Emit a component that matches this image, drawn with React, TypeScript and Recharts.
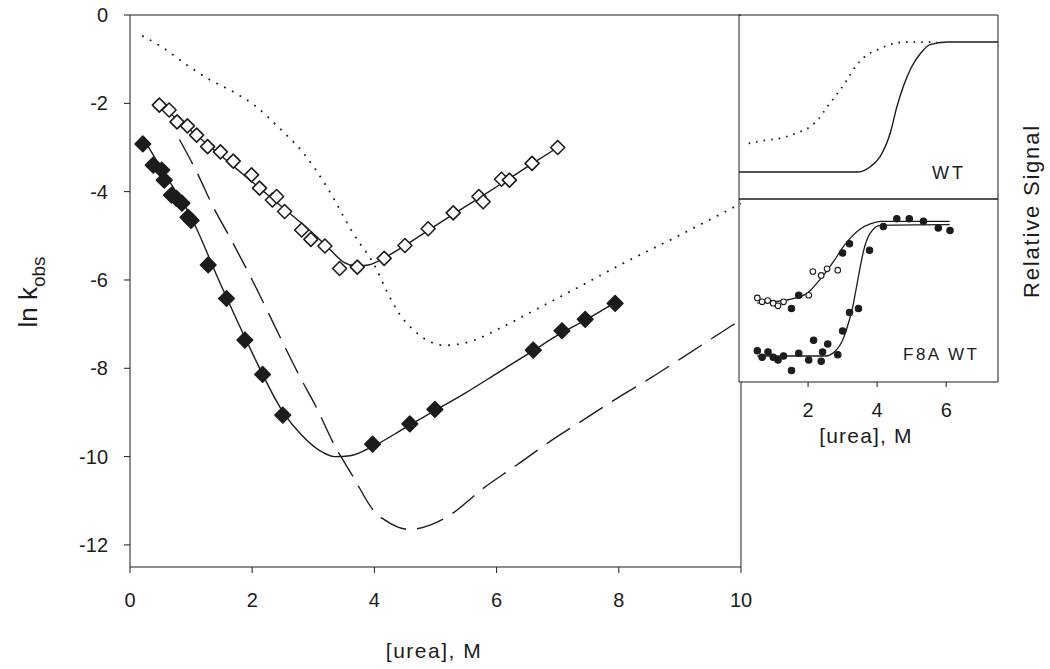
import React from "react";
import { ComposedChart, Line, Scatter, XAxis, YAxis, ReferenceLine } from "recharts";

const FONT = '"Liberation Sans", Arial, Helvetica, sans-serif';
const INK = "#1c1c1c";

// main panel: ln k_obs vs [urea]
const xTicks = [0, 2, 4, 6, 8, 10];
const yTicks = [0, -2, -4, -6, -8, -10, -12];

const openDiamonds = [
  { x: 0.48, y: -2.04 }, { x: 0.64, y: -2.15 }, { x: 0.77, y: -2.42 }, { x: 0.94, y: -2.51 },
  { x: 1.09, y: -2.72 }, { x: 1.27, y: -2.98 }, { x: 1.48, y: -3.1 }, { x: 1.69, y: -3.31 },
  { x: 1.99, y: -3.62 }, { x: 2.12, y: -3.92 }, { x: 2.33, y: -4.19 }, { x: 2.4, y: -4.11 },
  { x: 2.53, y: -4.45 }, { x: 2.81, y: -4.87 }, { x: 2.96, y: -5.08 }, { x: 3.19, y: -5.23 },
  { x: 3.43, y: -5.74 }, { x: 3.72, y: -5.71 }, { x: 4.16, y: -5.51 }, { x: 4.5, y: -5.22 },
  { x: 4.88, y: -4.84 }, { x: 5.29, y: -4.48 }, { x: 5.71, y: -4.11 }, { x: 5.78, y: -4.23 },
  { x: 6.08, y: -3.72 }, { x: 6.21, y: -3.74 }, { x: 6.58, y: -3.36 }, { x: 7.0, y: -3.0 },
];

const openFit = [
  { x: 0.45, y: -2.0 }, { x: 1.0, y: -2.62 }, { x: 1.5, y: -3.2 }, { x: 2.0, y: -3.78 },
  { x: 2.5, y: -4.36 }, { x: 3.0, y: -4.95 }, { x: 3.3, y: -5.35 }, { x: 3.5, y: -5.6 },
  { x: 3.7, y: -5.68 }, { x: 3.9, y: -5.66 }, { x: 4.2, y: -5.47 }, { x: 4.6, y: -5.13 },
  { x: 5.0, y: -4.77 }, { x: 5.5, y: -4.33 }, { x: 6.0, y: -3.89 }, { x: 6.5, y: -3.44 },
  { x: 7.0, y: -3.0 },
];

const filledDiamonds = [
  { x: 0.21, y: -2.92 }, { x: 0.38, y: -3.4 }, { x: 0.52, y: -3.51 }, { x: 0.56, y: -3.74 },
  { x: 0.68, y: -4.08 }, { x: 0.76, y: -4.15 }, { x: 0.85, y: -4.26 }, { x: 0.95, y: -4.58 },
  { x: 1.0, y: -4.65 }, { x: 1.28, y: -5.66 }, { x: 1.58, y: -6.42 }, { x: 1.88, y: -7.36 },
  { x: 2.17, y: -8.14 }, { x: 2.5, y: -9.06 }, { x: 3.97, y: -9.72 }, { x: 4.58, y: -9.26 },
  { x: 4.99, y: -8.93 }, { x: 6.6, y: -7.59 }, { x: 7.07, y: -7.15 }, { x: 7.45, y: -6.89 },
  { x: 7.94, y: -6.53 },
];

const filledFit = [
  { x: 0.2, y: -2.75 }, { x: 0.5, y: -3.45 }, { x: 1.0, y: -4.58 }, { x: 1.5, y: -6.15 },
  { x: 2.0, y: -7.65 }, { x: 2.5, y: -8.98 }, { x: 2.8, y: -9.5 }, { x: 3.1, y: -9.86 },
  { x: 3.35, y: -10.0 }, { x: 3.6, y: -9.98 }, { x: 4.0, y: -9.75 }, { x: 4.5, y: -9.35 },
  { x: 5.0, y: -8.95 }, { x: 5.5, y: -8.55 }, { x: 6.0, y: -8.12 }, { x: 6.6, y: -7.6 },
  { x: 7.0, y: -7.25 }, { x: 7.5, y: -6.87 }, { x: 7.95, y: -6.5 },
];

const dottedCurve = [
  { x: 0.2, y: -0.47 }, { x: 0.55, y: -0.75 }, { x: 0.93, y: -1.13 }, { x: 1.31, y: -1.47 },
  { x: 1.69, y: -1.74 }, { x: 2.07, y: -2.08 }, { x: 2.45, y: -2.57 }, { x: 2.84, y: -3.13 },
  { x: 3.22, y: -3.89 }, { x: 3.65, y: -4.94 }, { x: 4.04, y: -5.77 }, { x: 4.2, y: -6.25 },
  { x: 4.4, y: -6.75 }, { x: 4.64, y: -7.13 }, { x: 4.91, y: -7.4 }, { x: 5.15, y: -7.48 },
  { x: 5.56, y: -7.4 }, { x: 6.06, y: -7.09 }, { x: 6.71, y: -6.62 }, { x: 7.36, y: -6.15 },
  { x: 8.02, y: -5.66 }, { x: 8.89, y: -5.06 }, { x: 9.79, y: -4.42 }, { x: 10.0, y: -4.27 },
];

const dashedCurve = [
  { x: 0.81, y: -2.82 }, { x: 1.09, y: -3.55 }, { x: 1.36, y: -4.34 }, { x: 1.66, y: -5.1 },
  { x: 2.0, y: -6.0 }, { x: 2.48, y: -7.36 }, { x: 2.78, y: -8.19 }, { x: 3.06, y: -8.91 },
  { x: 3.33, y: -9.7 }, { x: 3.65, y: -10.45 }, { x: 3.98, y: -11.21 }, { x: 4.26, y: -11.51 },
  { x: 4.58, y: -11.65 }, { x: 4.91, y: -11.55 }, { x: 5.24, y: -11.32 }, { x: 5.78, y: -10.72 },
  { x: 6.33, y: -10.19 }, { x: 6.87, y: -9.66 }, { x: 7.42, y: -9.17 }, { x: 7.97, y: -8.68 },
  { x: 8.51, y: -8.23 }, { x: 9.06, y: -7.74 }, { x: 9.82, y: -7.06 }, { x: 10.0, y: -6.9 },
];

// right frame of the main panel only shows below the inset
const rightFrame = [{ x: 10, y: -12.5 }, { x: 10, y: -8.31 }];

// inset: relative signal vs [urea]
const insetXTicks = [2, 4, 6];
const signalTicks = [0, 1];

const wtDotted = [
  { x: 0.28, y: 0.22 }, { x: 0.67, y: 0.24 }, { x: 1.2, y: 0.26 }, { x: 1.68, y: 0.3 },
  { x: 2.07, y: 0.35 }, { x: 2.31, y: 0.41 }, { x: 2.55, y: 0.5 }, { x: 2.84, y: 0.6 },
  { x: 3.13, y: 0.71 }, { x: 3.37, y: 0.81 }, { x: 3.61, y: 0.88 }, { x: 4.0, y: 0.94 },
  { x: 4.38, y: 0.98 }, { x: 4.86, y: 1.0 }, { x: 5.34, y: 1.0 }, { x: 5.73, y: 1.0 },
];

const wtSolid = [
  { x: 0, y: 0 }, { x: 3.46, y: 0 }, { x: 3.8, y: 0.04 }, { x: 4.09, y: 0.12 },
  { x: 4.38, y: 0.3 }, { x: 4.57, y: 0.5 }, { x: 4.76, y: 0.66 }, { x: 5.0, y: 0.81 },
  { x: 5.25, y: 0.91 }, { x: 5.53, y: 0.98 }, { x: 6.02, y: 1.0 }, { x: 7.5, y: 1.0 },
];

const f8aOpen = [
  { x: 0.53, y: 0.44 }, { x: 0.67, y: 0.41 }, { x: 0.83, y: 0.42 }, { x: 0.99, y: 0.4 },
  { x: 1.13, y: 0.38 }, { x: 1.29, y: 0.41 }, { x: 2.02, y: 0.46 }, { x: 2.14, y: 0.64 },
  { x: 2.38, y: 0.61 }, { x: 2.55, y: 0.66 }, { x: 2.86, y: 0.65 },
];

const f8aFilled = [
  { x: 1.52, y: 0.36 }, { x: 1.73, y: 0.46 }, { x: 3.0, y: 0.78 }, { x: 3.2, y: 0.85 },
];

const wtFilled = [
  { x: 0.53, y: 0.04 }, { x: 0.67, y: -0.01 }, { x: 0.84, y: 0.03 }, { x: 0.99, y: -0.01 },
  { x: 1.13, y: -0.03 }, { x: 1.29, y: 0.0 }, { x: 1.52, y: -0.11 }, { x: 1.73, y: 0.02 },
  { x: 2.02, y: -0.03 }, { x: 2.16, y: 0.12 }, { x: 2.38, y: -0.04 }, { x: 2.42, y: 0.03 },
  { x: 2.57, y: 0.09 }, { x: 2.86, y: 0.01 }, { x: 3.0, y: 0.19 }, { x: 3.2, y: 0.33 },
  { x: 3.46, y: 0.36 }, { x: 3.78, y: 0.8 }, { x: 4.18, y: 0.98 }, { x: 4.57, y: 1.04 },
  { x: 4.93, y: 1.04 }, { x: 5.34, y: 1.02 }, { x: 5.77, y: 0.97 }, { x: 6.11, y: 0.95 },
];

const f8aFit = [
  { x: 0.53, y: 0.4 }, { x: 1.0, y: 0.41 }, { x: 1.5, y: 0.43 }, { x: 2.0, y: 0.48 },
  { x: 2.25, y: 0.55 }, { x: 2.5, y: 0.63 }, { x: 2.75, y: 0.72 }, { x: 3.0, y: 0.82 },
  { x: 3.25, y: 0.9 }, { x: 3.5, y: 0.96 }, { x: 3.8, y: 1.0 }, { x: 4.1, y: 1.02 },
  { x: 6.1, y: 1.02 },
];

const wtFit = [
  { x: 0.53, y: 0.0 }, { x: 2.5, y: 0.0 }, { x: 2.8, y: 0.04 }, { x: 3.0, y: 0.12 },
  { x: 3.17, y: 0.25 }, { x: 3.3, y: 0.38 }, { x: 3.4, y: 0.52 }, { x: 3.5, y: 0.66 },
  { x: 3.61, y: 0.8 }, { x: 3.8, y: 0.93 }, { x: 4.09, y: 0.99 }, { x: 6.1, y: 0.995 },
];

function Diamond(props: any) {
  const { cx, cy, filled, r } = props;
  if (cx == null || cy == null) return null;
  const d = `M${cx},${cy - r}L${cx + r},${cy}L${cx},${cy + r}L${cx - r},${cy}Z`;
  return <path d={d} fill={filled ? INK : "#fff"} stroke={INK} strokeWidth={1.6} strokeLinejoin="round" />;
}

function Dot(props: any) {
  const { cx, cy, filled } = props;
  if (cx == null || cy == null) return null;
  return <circle cx={cx} cy={cy} r={filled ? 3.2 : 2.8} fill={filled ? INK : "#fff"} stroke={INK} strokeWidth={1.1} />;
}

const tickStyle = { fill: INK, fontSize: 20, fontFamily: FONT };

function MainChart() {
  return (
    <ComposedChart width={1050} height={669} margin={{ top: 15, right: 309, bottom: 0, left: 0 }}>
      <XAxis
        type="number"
        dataKey="x"
        domain={[0, 10]}
        ticks={xTicks}
        allowDataOverflow
        height={102}
        tickSize={6}
        tickMargin={20}
        stroke={INK}
        tick={tickStyle}
      />
      <YAxis
        type="number"
        dataKey="y"
        domain={[-12.5, 0]}
        ticks={yTicks}
        allowDataOverflow
        width={130}
        tickSize={6}
        tickMargin={16}
        stroke={INK}
        tick={tickStyle}
      />
      <ReferenceLine y={0} stroke={INK} />
      <ReferenceLine segment={rightFrame} stroke={INK} />
      <Line data={dottedCurve} dataKey="y" type="monotone" dot={false} stroke={INK} strokeWidth={1.8} strokeDasharray="1.8 7" isAnimationActive={false} />
      <Line data={dashedCurve} dataKey="y" type="monotone" dot={false} stroke={INK} strokeWidth={1.4} strokeDasharray="28 11" isAnimationActive={false} />
      <Line data={openFit} dataKey="y" type="monotone" dot={false} stroke={INK} strokeWidth={1.4} isAnimationActive={false} />
      <Line data={filledFit} dataKey="y" type="monotone" dot={false} stroke={INK} strokeWidth={1.4} isAnimationActive={false} />
      <Scatter data={openDiamonds} shape={<Diamond r={7} />} isAnimationActive={false} />
      <Scatter data={filledDiamonds} shape={<Diamond r={7.8} filled />} isAnimationActive={false} />
    </ComposedChart>
  );
}

function InsetTop() {
  return (
    <ComposedChart width={1050} height={669} margin={{ top: 5, right: 42, bottom: 460, left: 729 }}>
      <XAxis xAxisId="b" type="number" dataKey="x" domain={[0, 7.5]} height={10} tick={false} tickLine={false} stroke={INK} />
      <XAxis xAxisId="t" orientation="top" type="number" dataKey="x" domain={[0, 7.5]} height={10} tick={false} tickLine={false} stroke={INK} />
      <YAxis yAxisId="l" type="number" dataKey="y" domain={[-0.208, 1.208]} width={10} tick={false} tickLine={false} stroke={INK} />
      <YAxis yAxisId="r" orientation="right" type="number" dataKey="y" domain={[-0.208, 1.208]} ticks={signalTicks} width={10} tickSize={9} tick={false} stroke={INK} />
      <Line xAxisId="b" yAxisId="r" data={wtDotted} dataKey="y" type="monotone" dot={false} stroke={INK} strokeWidth={1.8} strokeDasharray="1.6 6" isAnimationActive={false} />
      <Line xAxisId="b" yAxisId="r" data={wtSolid} dataKey="y" type="monotone" dot={false} stroke={INK} strokeWidth={1.4} isAnimationActive={false} />
    </ComposedChart>
  );
}

function InsetBottom() {
  return (
    <ComposedChart width={1050} height={669} margin={{ top: 189, right: 42, bottom: 217, left: 729 }}>
      <XAxis xAxisId="b" type="number" dataKey="x" domain={[0, 7.5]} ticks={insetXTicks} height={70} tickSize={5} tickMargin={16} stroke={INK} tick={tickStyle} />
      <XAxis xAxisId="t" orientation="top" type="number" dataKey="x" domain={[0, 7.5]} height={10} tick={false} tickLine={false} stroke={INK} />
      <YAxis yAxisId="l" type="number" dataKey="y" domain={[-0.197, 1.189]} width={10} tick={false} tickLine={false} stroke={INK} />
      <YAxis yAxisId="r" orientation="right" type="number" dataKey="y" domain={[-0.197, 1.189]} ticks={signalTicks} width={10} tickSize={9} tick={false} stroke={INK} />
      <Line xAxisId="b" yAxisId="r" data={f8aFit} dataKey="y" type="monotone" dot={false} stroke={INK} strokeWidth={1.3} isAnimationActive={false} />
      <Line xAxisId="b" yAxisId="r" data={wtFit} dataKey="y" type="monotone" dot={false} stroke={INK} strokeWidth={1.3} isAnimationActive={false} />
      <Scatter xAxisId="b" yAxisId="r" data={f8aOpen} shape={<Dot />} isAnimationActive={false} />
      <Scatter xAxisId="b" yAxisId="r" data={f8aFilled} shape={<Dot filled />} isAnimationActive={false} />
      <Scatter xAxisId="b" yAxisId="r" data={wtFilled} shape={<Dot filled />} isAnimationActive={false} />
    </ComposedChart>
  );
}

function Titles() {
  return (
    <svg width={1050} height={669} style={{ position: "absolute", left: 0, top: 0, pointerEvents: "none" }} fontFamily={FONT} fill={INK}>
      <text x={434} y={658} textAnchor="middle" fontSize={21} letterSpacing={1.5}>[urea], M</text>
      <text transform="translate(37,292) rotate(-90)" textAnchor="middle" fontSize={26}>
        ln k<tspan fontSize={19} dy={8}>obs</tspan>
      </text>
      <text x={866} y={443} textAnchor="middle" fontSize={21} letterSpacing={1.2}>[urea], M</text>
      <text x={932} y={179} fontSize={18} letterSpacing={3}>WT</text>
      <text x={903} y={360} fontSize={17} letterSpacing={2.5}>F8A WT</text>
      <text transform="translate(1039,211) rotate(-90)" textAnchor="middle" fontSize={22} letterSpacing={1.8}>Relative Signal</text>
    </svg>
  );
}

export default function App() {
  const layer: React.CSSProperties = { position: "absolute", left: 0, top: 0 };
  return (
    <div style={{ position: "absolute", left: 0, top: 0, width: 1050, height: 669, background: "#fff", fontFamily: FONT }}>
      <div style={layer}><MainChart /></div>
      <div style={layer}><InsetTop /></div>
      <div style={layer}><InsetBottom /></div>
      <Titles />
    </div>
  );
}
